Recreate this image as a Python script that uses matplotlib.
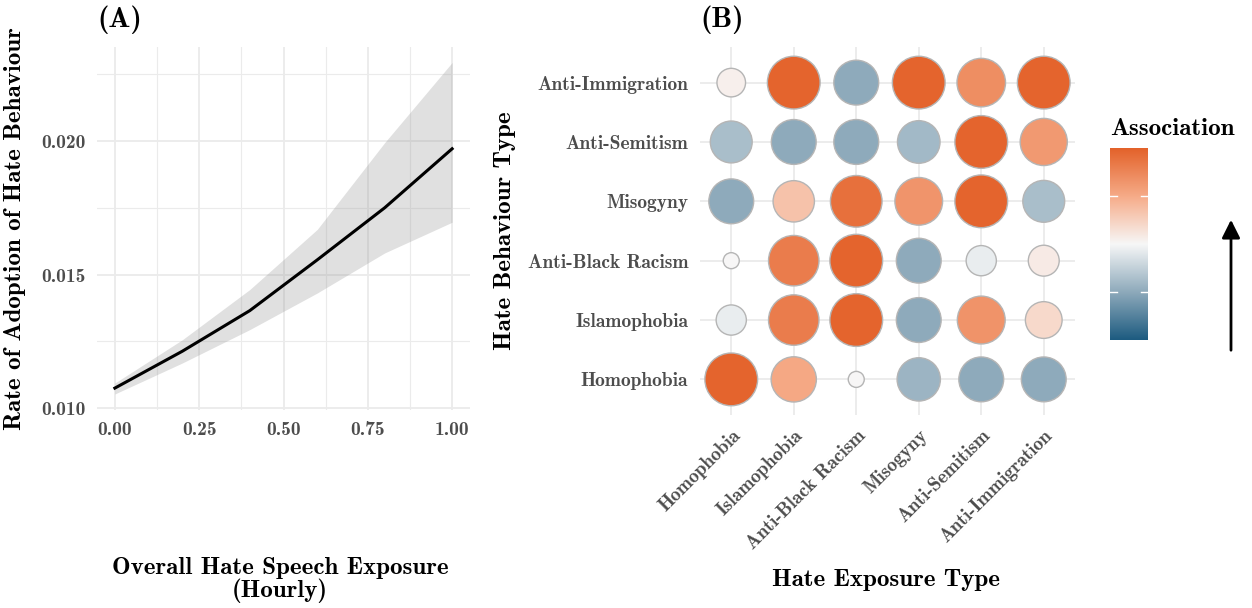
import numpy as np
import matplotlib
matplotlib.use("Agg")
import matplotlib.pyplot as plt
from matplotlib.colors import LinearSegmentedColormap, Normalize
from matplotlib.patches import FancyArrowPatch

# panel A: fitted rate and its confidence band
exposure = [0.0, 0.2, 0.4, 0.6, 0.8, 1.0]
rate = [0.01075, 0.01213, 0.01365, 0.01555, 0.01750, 0.01971]
rate_lo = [0.01053, 0.01169, 0.01294, 0.01431, 0.01581, 0.01696]
rate_hi = [0.01094, 0.01256, 0.01444, 0.01669, 0.01994, 0.02294]

# panel B: association between exposure type (columns) and behaviour type (rows)
exposure_types = ["Homophobia", "Islamophobia", "Anti-Black Racism",
                  "Misogyny", "Anti-Semitism", "Anti-Immigration"]
behaviour_types = ["Homophobia", "Islamophobia", "Anti-Black Racism",
                   "Misogyny", "Anti-Semitism", "Anti-Immigration"]
association = [
    [0.98, 0.52, 0.00, -0.43, -0.50, -0.50],   # Homophobia
    [-0.07, 0.82, 0.98, -0.50, 0.66, 0.20],    # Islamophobia
    [0.00, 0.82, 0.98, -0.50, -0.07, 0.08],    # Anti-Black Racism
    [-0.50, 0.35, 0.90, 0.65, 0.98, -0.37],    # Misogyny
    [-0.37, -0.50, -0.50, -0.40, 0.98, 0.62],  # Anti-Semitism
    [0.05, 0.98, -0.50, 0.98, 0.70, 0.98],     # Anti-Immigration
]

plt.rcParams["font.family"] = "cmb10"
plt.rcParams["axes.unicode_minus"] = False
plt.rcParams["mathtext.fontset"] = "cm"

W, H = 1252, 608
fig = plt.figure(figsize=(W / 100, H / 100), dpi=100)

grid_col = "#ebebeb"
tick_col = "#4d4d4d"
tick_fs = 14
lab_fs = 18
title_fs = 21

# ---------- panel A ----------
axA = fig.add_axes([97 / W, 1 - 410 / H, 373 / W, 363 / H])
axA.fill_between(exposure, rate_lo, rate_hi, color="#999999", alpha=0.3, lw=0)
axA.plot(exposure, rate, color="black", lw=2.2)
axA.set_xlim(-0.053, 1.053)
axA.set_ylim(0.00993, 0.02352)
axA.set_xticks([0, 0.25, 0.5, 0.75, 1.0])
axA.set_xticklabels(["0.00", "0.25", "0.50", "0.75", "1.00"])
axA.set_xticks([0.125, 0.375, 0.625, 0.875], minor=True)
axA.set_yticks([0.010, 0.015, 0.020])
axA.set_yticklabels(["0.010", "0.015", "0.020"])
axA.set_yticks([0.0125, 0.0175, 0.0225], minor=True)
axA.grid(which="major", color=grid_col, lw=1.3)
axA.grid(which="minor", color=grid_col, lw=0.8)
axA.set_axisbelow(True)
for s in axA.spines.values():
    s.set_visible(False)
axA.tick_params(which="both", length=0, labelsize=tick_fs, labelcolor=tick_col)
axA.tick_params(axis="y", pad=8)
axA.tick_params(axis="x", pad=8)
axA.set_ylabel("Rate of Adoption of Hate Behaviour", fontsize=lab_fs)
axA.yaxis.set_label_coords(-0.19, 0.5)
axA.text(0.0, 1.035, "(A)", transform=axA.transAxes, fontsize=title_fs, va="bottom", ha="left")
fig.text(280 / W, 1 - 580 / H, "Overall Hate Speech Exposure\n(Hourly)",
         ha="center", va="center", fontsize=lab_fs, linespacing=0.95)

# ---------- panel B ----------
colors = ["#1d5b80", "#8eaabb", "#f7f7f7", "#f6ab88", "#e3622a"]
cmap = LinearSegmentedColormap.from_list("assoc", colors)
norm = Normalize(-1, 1)

axB = fig.add_axes([700 / W, 1 - 415 / H, 375 / W, 368 / H])
vals = np.array(association)
xs, ys = np.meshgrid(np.arange(1, 7), np.arange(1, 7))
diam = 16 + 37 * np.abs(vals) ** 0.36          # size scale, pixels
sizes = (diam * 0.72) ** 2
axB.scatter(xs.ravel(), ys.ravel(), s=sizes.ravel(), c=vals.ravel(), cmap=cmap,
            norm=norm, edgecolors="#b5b5b5", linewidths=1.0, zorder=3)
axB.set_xlim(0.5, 6.5)
axB.set_ylim(0.4, 6.6)
axB.set_xticks(range(1, 7))
axB.set_xticklabels(exposure_types, rotation=45, ha="right", rotation_mode="anchor")
axB.set_yticks(range(1, 7))
axB.set_yticklabels(behaviour_types)
axB.grid(color=grid_col, lw=1.3)
axB.set_axisbelow(True)
for s in axB.spines.values():
    s.set_visible(False)
axB.tick_params(length=0, labelsize=tick_fs, labelcolor=tick_col)
axB.tick_params(axis="y", pad=8.5)
axB.tick_params(axis="x", pad=8)
axB.set_ylabel("Hate Behaviour Type", fontsize=lab_fs)
axB.yaxis.set_label_coords(-0.49, 0.5)
axB.text(0.0, 1.035, "(B)", transform=axB.transAxes, fontsize=title_fs, va="bottom", ha="left")
fig.text(886 / W, 1 - 580 / H, "Hate Exposure Type", ha="center", va="center", fontsize=lab_fs)

# ---------- colour legend ----------
cax = fig.add_axes([1110 / W, 1 - 340 / H, 38 / W, 192 / H])
grad = np.linspace(-1, 1, 256).reshape(-1, 1)
cax.imshow(grad, aspect="auto", cmap=cmap, norm=norm, origin="lower", extent=[0, 1, -1, 1])
for v in (-0.5, 0.5):
    cax.plot([0, 0.18], [v, v], color="white", lw=1)
    cax.plot([0.82, 1], [v, v], color="white", lw=1)
cax.set_xlim(0, 1)
cax.set_ylim(-1, 1)
cax.axis("off")
fig.text(1110 / W, 1 - 129 / H, "Association", ha="left", va="center", fontsize=lab_fs)

fig.add_artist(FancyArrowPatch(
    (1231 / W, 1 - 353 / H), (1231 / W, 1 - 217 / H), transform=fig.transFigure,
    arrowstyle="-|>,head_length=5,head_width=2.5", color="black", lw=2,
    mutation_scale=2.2))

fig.savefig("out.png", dpi=100)
